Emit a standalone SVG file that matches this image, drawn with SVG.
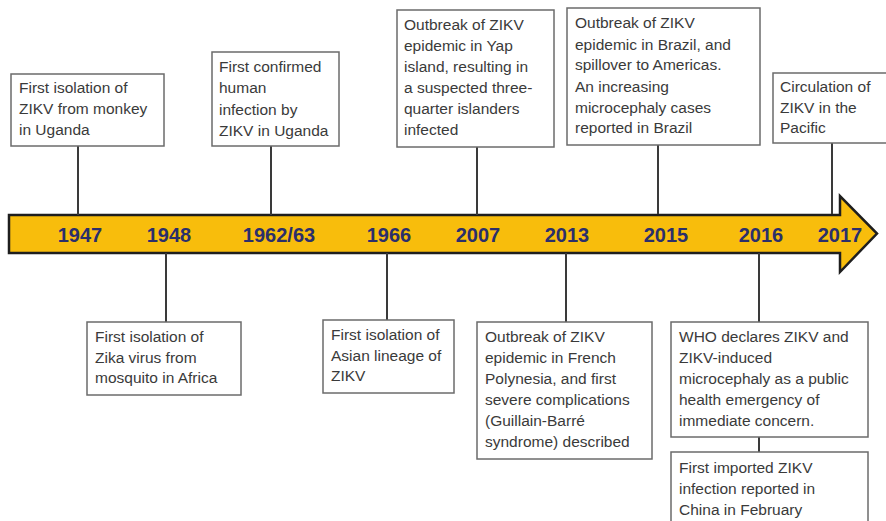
<svg xmlns="http://www.w3.org/2000/svg" width="886" height="521" viewBox="0 0 886 521">
  <style>
    .box { fill: #ffffff; stroke: #6b6b6b; stroke-width: 1.5; }
    .lbl { font-family: "Liberation Sans", Arial, sans-serif; font-size: 15.5px; fill: #3a3a3a; }
    .yr { font-family: "Liberation Sans", Arial, sans-serif; font-size: 20px; font-weight: bold; fill: #2b2f6b; text-anchor: middle; }
    .conn line { stroke: #3a3a3a; stroke-width: 2; }
  </style>

  <rect width="886" height="521" fill="#ffffff"/>

  <!-- timeline arrow -->
  <g id="timeline">
    <path d="M9,215 H840 V196 L877,233.5 L840,272 V253 H9 Z" fill="#f8bd0c" stroke="#1e1e1e" stroke-width="2.5" stroke-linejoin="miter"/>
    <text class="yr" x="80" y="242">1947</text>
    <text class="yr" x="169" y="242">1948</text>
    <text class="yr" x="279" y="242">1962/63</text>
    <text class="yr" x="389" y="242">1966</text>
    <text class="yr" x="478" y="242">2007</text>
    <text class="yr" x="567" y="242">2013</text>
    <text class="yr" x="666" y="242">2015</text>
    <text class="yr" x="761" y="242">2016</text>
    <text class="yr" x="840" y="242">2017</text>
  </g>

  <!-- connectors -->
  <g class="conn" id="connectors">
    <line x1="78" y1="146" x2="78" y2="215"/>
    <line x1="271" y1="146" x2="271" y2="215"/>
    <line x1="477" y1="147" x2="477" y2="215"/>
    <line x1="658" y1="145" x2="658" y2="214"/>
    <line x1="832" y1="143" x2="832" y2="214"/>
    <line x1="166" y1="253" x2="166" y2="322"/>
    <line x1="387" y1="253" x2="387" y2="320"/>
    <line x1="566" y1="253" x2="566" y2="322"/>
    <line x1="759" y1="253" x2="759" y2="322"/>
    <line x1="759" y1="437" x2="759" y2="452"/>
  </g>

  <g id="n1947">
    <rect class="box" x="11" y="74" width="153" height="72"/>
    <text class="lbl" x="19" y="93">First isolation of</text>
    <text class="lbl" x="19" y="114">ZIKV from monkey</text>
    <text class="lbl" x="19" y="135">in Uganda</text>
  </g>

  <g id="n1962">
    <rect class="box" x="212" y="52" width="127" height="94"/>
    <text class="lbl" x="219" y="72">First confirmed</text>
    <text class="lbl" x="219" y="93">human</text>
    <text class="lbl" x="219" y="115">infection by</text>
    <text class="lbl" x="219" y="136">ZIKV in Uganda</text>
  </g>

  <g id="n2007">
    <rect class="box" x="397" y="10" width="157" height="137"/>
    <text class="lbl" x="404" y="30">Outbreak of ZIKV</text>
    <text class="lbl" x="404" y="51">epidemic in Yap</text>
    <text class="lbl" x="404" y="72">island, resulting in</text>
    <text class="lbl" x="404" y="93">a suspected three-</text>
    <text class="lbl" x="404" y="114">quarter islanders</text>
    <text class="lbl" x="404" y="135">infected</text>
  </g>

  <g id="n2015">
    <rect class="box" x="567" y="8" width="193" height="137"/>
    <text class="lbl" x="575" y="28">Outbreak of ZIKV</text>
    <text class="lbl" x="575" y="50">epidemic in Brazil, and</text>
    <text class="lbl" x="575" y="70">spillover to Americas.</text>
    <text class="lbl" x="575" y="92">An increasing</text>
    <text class="lbl" x="575" y="113">microcephaly cases</text>
    <text class="lbl" x="575" y="133">reported in Brazil</text>
  </g>

  <g id="n2017">
    <rect class="box" x="773" y="73" width="120" height="70"/>
    <text class="lbl" x="780" y="92">Circulation of</text>
    <text class="lbl" x="780" y="113">ZIKV in the</text>
    <text class="lbl" x="780" y="133">Pacific</text>
  </g>

  <g id="n1948">
    <rect class="box" x="87" y="322" width="154" height="73"/>
    <text class="lbl" x="95" y="342">First isolation of</text>
    <text class="lbl" x="95" y="363">Zika virus from</text>
    <text class="lbl" x="95" y="383">mosquito in Africa</text>
  </g>

  <g id="n1966">
    <rect class="box" x="323" y="320" width="131" height="73"/>
    <text class="lbl" x="331" y="340">First isolation of</text>
    <text class="lbl" x="331" y="361">Asian lineage of</text>
    <text class="lbl" x="331" y="381">ZIKV</text>
  </g>

  <g id="n2013">
    <rect class="box" x="477" y="322" width="175" height="137"/>
    <text class="lbl" x="485" y="342">Outbreak of ZIKV</text>
    <text class="lbl" x="485" y="363">epidemic in French</text>
    <text class="lbl" x="485" y="384">Polynesia, and first</text>
    <text class="lbl" x="485" y="405">severe complications</text>
    <text class="lbl" x="485" y="426">(Guillain-Barré</text>
    <text class="lbl" x="485" y="447">syndrome) described</text>
  </g>

  <g id="n2016">
    <rect class="box" x="671" y="322" width="197" height="115"/>
    <text class="lbl" x="679" y="342">WHO declares ZIKV and</text>
    <text class="lbl" x="679" y="363">ZIKV-induced</text>
    <text class="lbl" x="679" y="384">microcephaly as a public</text>
    <text class="lbl" x="679" y="405">health emergency of</text>
    <text class="lbl" x="679" y="426">immediate concern.</text>
  </g>

  <g id="n2016b">
    <rect class="box" x="671" y="452" width="197" height="80"/>
    <text class="lbl" x="679" y="473">First imported ZIKV</text>
    <text class="lbl" x="679" y="494">infection reported in</text>
    <text class="lbl" x="679" y="515">China in February</text>
  </g>
</svg>
